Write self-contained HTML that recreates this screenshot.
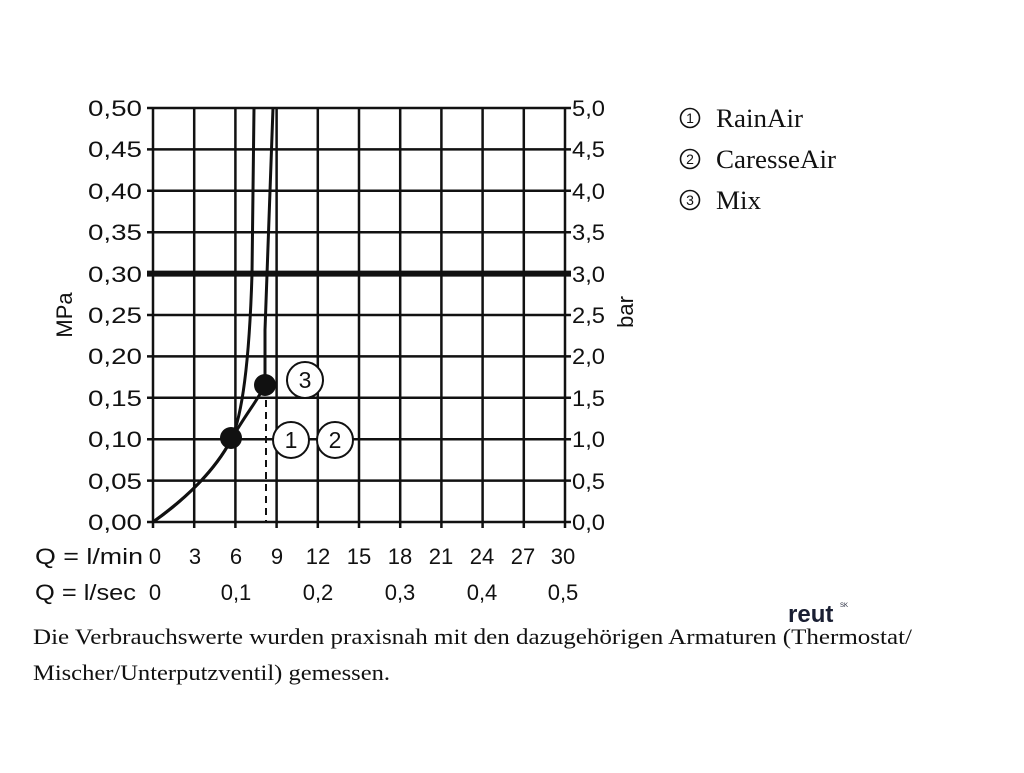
<!DOCTYPE html>
<html><head><style>
body{margin:0;background:#fff;width:1024px;height:768px;overflow:hidden}
</style></head><body>
<svg width="1024" height="768" xmlns="http://www.w3.org/2000/svg">
<g stroke="#111" stroke-width="2.5" fill="none">
<path d="M153,108V522M194.2,108V522M235.4,108V522M276.6,108V522M317.8,108V522M359,108V522M400.2,108V522M441.4,108V522M482.6,108V522M523.8,108V522M565,108V522"/>
<path d="M147,108H571M147,149.4H571M147,190.8H571M147,232.2H571M147,315H571M147,356.4H571M147,397.8H571M147,439.2H571M147,480.6H571M147,522H571"/>
<path d="M153,522v6M194.2,522v6M235.4,522v6M276.6,522v6M317.8,522v6M359,522v6M400.2,522v6M441.4,522v6M482.6,522v6M523.8,522v6M565,522v6"/>
</g>
<path d="M147,273.6H571" stroke="#111" stroke-width="6"/>
<path d="M266,388V522" stroke="#111" stroke-width="2" stroke-dasharray="7,5"/>
<path d="M153,522 C185,500 215,470 231,440 C245,410 250,340 252,274 L254,108" stroke="#111" stroke-width="3" fill="none"/>
<path d="M153,522 C190,495 215,470 231,440 C245,415 258,400 265,385 L265,330 C266,290 268,250 273,108" stroke="#111" stroke-width="3" fill="none"/>
<circle cx="231" cy="438" r="11" fill="#111"/>
<circle cx="265" cy="385" r="11" fill="#111"/>
<g fill="#fff" stroke="#111" stroke-width="2">
<circle cx="305" cy="380" r="18"/>
<circle cx="291" cy="440" r="18"/>
<circle cx="335" cy="440" r="18"/>
</g>
<g font-family="Liberation Sans, sans-serif" font-size="23" fill="#111">
<text x="305" y="388" text-anchor="middle">3</text>
<text x="291" y="448" text-anchor="middle">1</text>
<text x="335" y="448" text-anchor="middle">2</text>
</g>
<g font-family="Liberation Sans, sans-serif" font-size="22" fill="#111" lengthAdjust="spacingAndGlyphs">
<text x="88" y="116" textLength="54" lengthAdjust="spacingAndGlyphs">0,50</text><text x="88" y="157" textLength="54" lengthAdjust="spacingAndGlyphs">0,45</text><text x="88" y="199" textLength="54" lengthAdjust="spacingAndGlyphs">0,40</text><text x="88" y="240" textLength="54" lengthAdjust="spacingAndGlyphs">0,35</text><text x="88" y="282" textLength="54" lengthAdjust="spacingAndGlyphs">0,30</text><text x="88" y="323" textLength="54" lengthAdjust="spacingAndGlyphs">0,25</text><text x="88" y="364" textLength="54" lengthAdjust="spacingAndGlyphs">0,20</text><text x="88" y="406" textLength="54" lengthAdjust="spacingAndGlyphs">0,15</text><text x="88" y="447" textLength="54" lengthAdjust="spacingAndGlyphs">0,10</text><text x="88" y="489" textLength="54" lengthAdjust="spacingAndGlyphs">0,05</text><text x="88" y="530" textLength="54" lengthAdjust="spacingAndGlyphs">0,00</text>
<text x="572" y="116" textLength="33" lengthAdjust="spacingAndGlyphs">5,0</text><text x="572" y="157" textLength="33" lengthAdjust="spacingAndGlyphs">4,5</text><text x="572" y="199" textLength="33" lengthAdjust="spacingAndGlyphs">4,0</text><text x="572" y="240" textLength="33" lengthAdjust="spacingAndGlyphs">3,5</text><text x="572" y="282" textLength="33" lengthAdjust="spacingAndGlyphs">3,0</text><text x="572" y="323" textLength="33" lengthAdjust="spacingAndGlyphs">2,5</text><text x="572" y="364" textLength="33" lengthAdjust="spacingAndGlyphs">2,0</text><text x="572" y="406" textLength="33" lengthAdjust="spacingAndGlyphs">1,5</text><text x="572" y="447" textLength="33" lengthAdjust="spacingAndGlyphs">1,0</text><text x="572" y="489" textLength="33" lengthAdjust="spacingAndGlyphs">0,5</text><text x="572" y="530" textLength="33" lengthAdjust="spacingAndGlyphs">0,0</text>
<text transform="translate(72,315) rotate(-90)" text-anchor="middle">MPa</text>
<text transform="translate(633,312) rotate(-90)" text-anchor="middle">bar</text>
<text x="35" y="564" textLength="108" lengthAdjust="spacingAndGlyphs">Q = l/min</text>
<text x="35" y="600" textLength="101" lengthAdjust="spacingAndGlyphs">Q = l/sec</text>
</g>
<g font-family="Liberation Sans, sans-serif" font-size="22" fill="#111" text-anchor="middle">
<text x="155" y="564">0</text><text x="195" y="564">3</text><text x="236" y="564">6</text><text x="277" y="564">9</text><text x="318" y="564">12</text><text x="359" y="564">15</text><text x="400" y="564">18</text><text x="441" y="564">21</text><text x="482" y="564">24</text><text x="523" y="564">27</text><text x="563" y="564">30</text>
<text x="155" y="600">0</text><text x="236" y="600">0,1</text><text x="318" y="600">0,2</text><text x="400" y="600">0,3</text><text x="482" y="600">0,4</text><text x="563" y="600">0,5</text>
</g>
<g fill="none" stroke="#111" stroke-width="1.6">
<circle cx="690" cy="118" r="9.5"/><circle cx="690" cy="159" r="9.5"/><circle cx="690" cy="200" r="9.5"/>
</g>
<g font-family="Liberation Sans, sans-serif" font-size="14" fill="#111" text-anchor="middle">
<text x="690" y="123">1</text><text x="690" y="164">2</text><text x="690" y="205">3</text>
</g>
<g font-family="Liberation Serif, serif" font-size="26" fill="#111">
<text x="716" y="127" textLength="87" lengthAdjust="spacingAndGlyphs">RainAir</text>
<text x="716" y="168" textLength="120" lengthAdjust="spacingAndGlyphs">CaresseAir</text>
<text x="716" y="209" textLength="45" lengthAdjust="spacingAndGlyphs">Mix</text>
</g>
<text x="788" y="622" font-family="Liberation Sans, sans-serif" font-weight="bold" font-size="24" fill="#1a1f33">reut</text>
<text x="840" y="607" font-family="Liberation Sans, sans-serif" font-size="6" fill="#1a1f33">SK</text>
<g font-family="Liberation Serif, serif" font-size="22" fill="#111">
<text x="33" y="644" textLength="879" lengthAdjust="spacingAndGlyphs">Die Verbrauchswerte wurden praxisnah mit den dazugehörigen Armaturen (Thermostat/</text>
<text x="33" y="680" textLength="357" lengthAdjust="spacingAndGlyphs">Mischer/Unterputzventil) gemessen.</text>
</g>
</svg>
</body></html>
